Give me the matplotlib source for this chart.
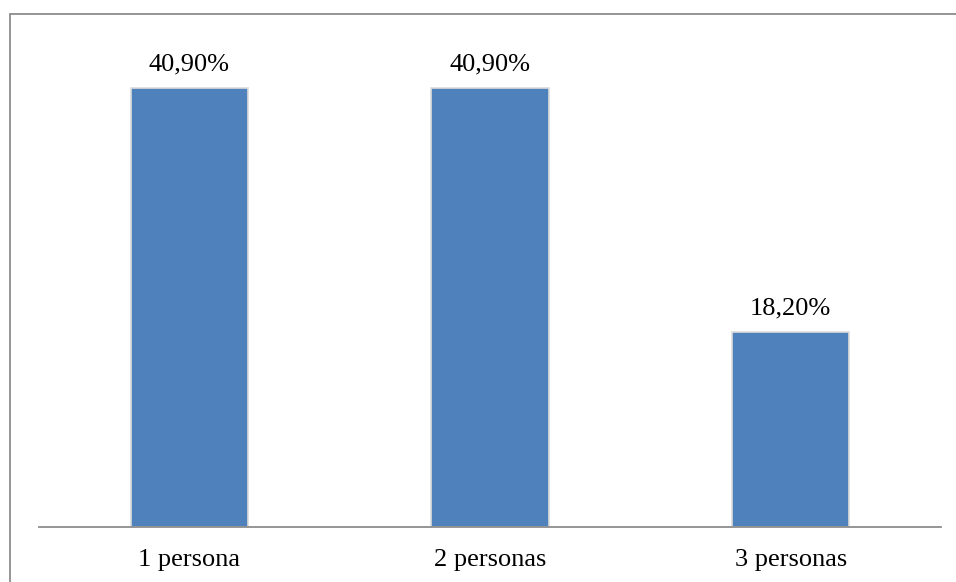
import matplotlib
matplotlib.use('Agg')
import matplotlib.pyplot as plt
from matplotlib.patches import Rectangle

CATEGORIES = ['1 persona', '2 personas', '3 personas']
VALUES     = [40.9, 40.9, 18.2]
LABELS     = ['40,90%', '40,90%', '18,20%']

W, H, DPI = 956, 582, 100
BAR_COLOR = '#4F81BD'
plt.rcParams['font.family'] = ['Liberation Serif', 'DejaVu Serif']

fig = plt.figure(figsize=(W / DPI, H / DPI), dpi=DPI)
ax = fig.add_axes([39 / W, 1 - 527 / H, (941 - 39) / W, (527 - 44) / H])

x = range(len(CATEGORIES))
bars = ax.bar(x, VALUES, width=0.39, color=BAR_COLOR,
              edgecolor='#dcdcdc', linewidth=1.2)

for b, lbl in zip(bars, LABELS):
    ax.annotate(lbl, (b.get_x() + b.get_width() / 2, b.get_height()),
                xytext=(0, 9), textcoords='offset points',
                ha='center', va='bottom', fontsize=19, color='black')

ax.set_xlim(-0.5, 2.5)
ax.set_ylim(0, 45)
ax.set_xticks(list(x))
ax.set_xticklabels(CATEGORIES, fontsize=19)
ax.tick_params(axis='x', length=0, pad=16)
ax.set_yticks([])
for s in ['top', 'right', 'left']:
    ax.spines[s].set_visible(False)
ax.spines['bottom'].set_color('#8c8c8c')
ax.spines['bottom'].set_linewidth(1.3)

# chart area border (cropped on right/bottom in the original)
border = Rectangle((9.5 / W, -0.1), 2, 1.1 - 14.5 / H,
                   transform=fig.transFigure, fill=False,
                   edgecolor='#8c8c8c', linewidth=1.3, clip_on=False)
fig.patches.append(border)

fig.savefig('out.png', dpi=DPI)
